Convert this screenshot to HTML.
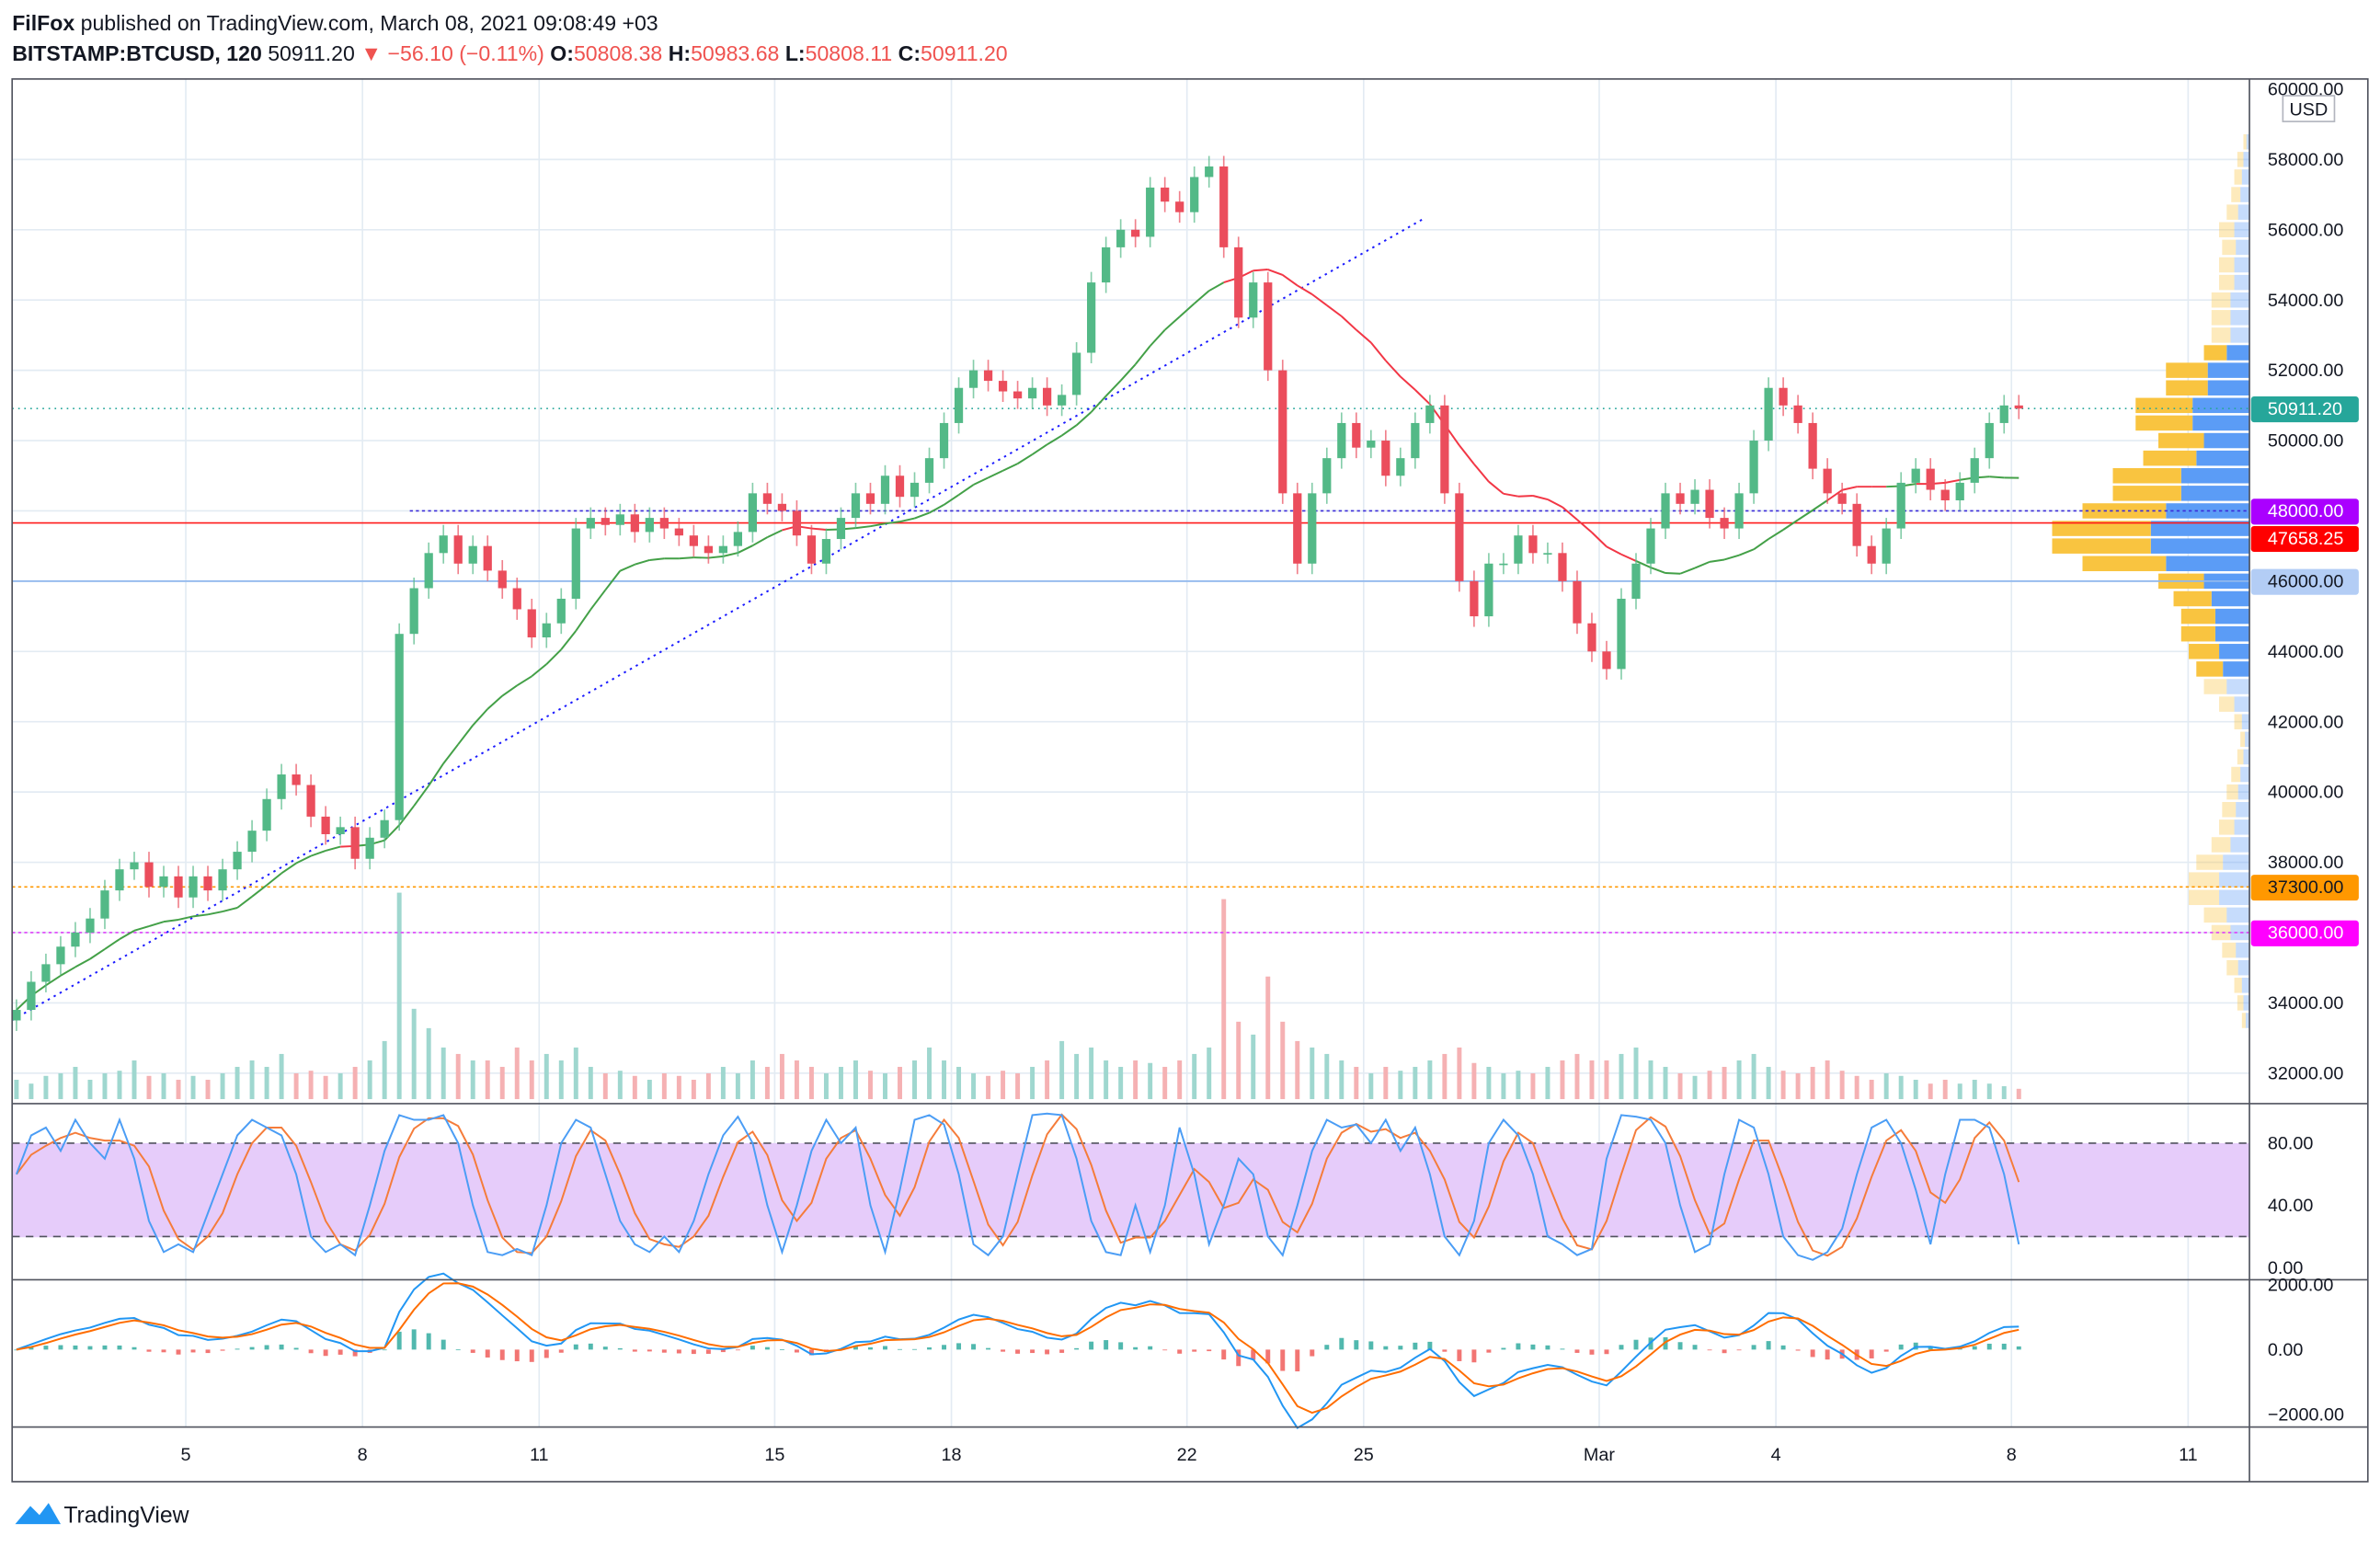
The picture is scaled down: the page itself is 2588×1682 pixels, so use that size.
<!DOCTYPE html>
<html><head><meta charset="utf-8"><style>
html,body{margin:0;padding:0;background:#fff;}
svg{display:block;font-family:"Liberation Sans",sans-serif;}
</style></head><body>
<svg id="chart" width="2588" height="1682" viewBox="0 0 1568 1019" xmlns="http://www.w3.org/2000/svg">
<rect x="0" y="0" width="1568" height="1019" fill="#fff"/>
<text x="8" y="20" font-size="14" fill="#131722"><tspan font-weight="bold">FilFox</tspan> published on TradingView.com, March 08, 2021 09:08:49 +03</text>
<text x="8" y="40" font-size="14" fill="#131722"><tspan font-weight="bold">BITSTAMP:BTCUSD, 120</tspan> 50911.20 <tspan fill="#ef5350">▼ −56.10 (−0.11%)</tspan> <tspan font-weight="bold">O:</tspan><tspan fill="#ef5350">50808.38</tspan> <tspan font-weight="bold">H:</tspan><tspan fill="#ef5350">50983.68</tspan> <tspan font-weight="bold">L:</tspan><tspan fill="#ef5350">50808.11</tspan> <tspan font-weight="bold">C:</tspan><tspan fill="#ef5350">50911.20</tspan></text>
<g id="grid"></g>
<rect x="8" y="753" width="1474" height="62" fill="#e6ccfa"/>
<g id="lay"></g>
<g fill="none" stroke="#50535e" stroke-width="1">
<rect x="8" y="52" width="1552" height="924"/>
<line x1="1482" y1="52" x2="1482" y2="976"/>
<line x1="8" y1="727" x2="1560" y2="727"/>
<line x1="8" y1="843" x2="1560" y2="843"/>
<line x1="8" y1="940" x2="1560" y2="940"/>
</g>
<g id="axes" font-size="12" fill="#131722"></g>
<rect x="1504" y="63" width="34" height="17" fill="#fff" stroke="#b2b5be"/>
<text x="1521" y="76" font-size="12" text-anchor="middle" fill="#131722">USD</text>
<g>
<path d="M10 1004 l10 -12 l6 6 l6 -8 l8 14 z" fill="#2196f3"/>
<text x="42" y="1003" font-size="15" fill="#131722">TradingView</text>
</g>
</svg>
<script>
const closes=[33800,34600,35100,35600,36000,36400,37200,37800,38000,37300,37600,37000,
37600,37200,37800,38300,38900,39800,40500,40200,39300,38800,39000,38100,
38700,39200,44500,45800,46800,47300,46500,47000,46300,45800,45200,44400,
44800,45500,47500,47800,47600,47900,47400,47800,47500,47300,47000,46800,
47000,47400,48500,48200,48000,47300,46500,47200,47800,48500,48200,49000,
48400,48800,49500,50500,51500,52000,51700,51400,51200,51500,51000,51300,
52500,54500,55500,56000,55800,57200,56800,56500,57500,57800,55500,53500,
54500,52000,48500,46500,48500,49500,50500,49800,50000,49000,49500,50500,
51000,48500,46000,45000,46500,46500,47300,46800,46800,46000,44800,44000,
43500,45500,46500,47500,48500,48200,48600,47800,47500,48500,50000,51500,
51000,50500,49200,48500,48200,47000,46500,47500,48800,49200,48600,48300,
48800,49500,50500,51000,50911];
const firstOpen=33500;
const volumes=[15,12,18,20,25,15,20,22,30,18,20,15,18,15,20,25,30,25,35,20,22,18,20,25,
30,45,160,70,55,40,35,30,30,25,40,30,35,30,40,25,20,22,18,15,20,18,15,20,
25,20,30,25,35,30,25,20,25,30,22,20,25,30,40,30,25,20,18,22,20,25,30,45,
35,40,30,25,30,28,25,30,35,40,155,60,50,95,60,45,40,35,30,25,20,25,22,25,
30,35,40,28,25,20,22,20,25,30,35,30,30,35,40,30,25,20,18,22,25,30,35,25,
22,20,25,30,22,18,15,20,18,15,12,15,12,15,12,10,8];
const stochK=[60,85,90,75,95,80,70,95,70,30,10,15,10,35,60,85,95,90,85,60,20,10,15,8,
40,75,98,95,95,98,80,40,10,8,12,8,40,80,95,90,60,30,15,10,20,10,30,60,
85,97,80,40,10,40,75,95,80,90,40,10,50,95,98,92,60,15,8,20,60,98,99,98,
70,30,10,8,40,10,40,90,60,15,40,70,60,20,8,40,75,95,90,92,80,95,75,90,
60,20,8,30,80,95,85,60,20,15,8,12,70,98,97,95,80,40,10,15,60,95,90,60,
20,8,5,10,25,60,90,95,80,50,15,60,95,95,90,60,15];
const profileStart=33500;
const profileWidths=[5,8,10,15,18,25,30,40,40,35,25,20,18,15,12,8,6,10,20,30,35,40,45,45,50,60,110,130,130,110,90,90,70,60,75,75,55,55,30,25,25,25,20,20,18,20,15,12,10,8,4];
const priceTicks=[60000,58000,56000,54000,52000,50000,48000,46000,44000,42000,40000,38000,36000,34000,32000];
const dateLabels=["5","8","11","15","18","22","25","Mar","4","8","11"];
const dateDays=[3,6,9,13,16,20,23,27,30,34,37];
const stochTicks=[80,40,0];
const macdTicks=[2000,0,-2000];

const NS="http://www.w3.org/2000/svg";
const xOf=i=>6+(i+0.5)*9.7;
const xDay=d=>6+d*38.8;
const yP=p=>105+(58000-p)*0.02315;
const yS=v=>835-v*1.025;
const yM=v=>889-v*0.0213;
const lay=document.getElementById('lay'),grid=document.getElementById('grid'),axes=document.getElementById('axes');
function mk(tag,parent,attrs){const e=document.createElementNS(NS,tag);for(const k in attrs)e.setAttribute(k,attrs[k]);parent.appendChild(e);return e;}

dateDays.forEach((d,k)=>{const l=mk('line',grid,{x1:xDay(d),x2:xDay(d),y1:52,y2:940,stroke:'#e3ebf3','stroke-width':1});


const t=mk('text',axes,{x:xDay(d),y:962,'text-anchor':'middle','font-size':12});t.textContent=dateLabels[k];

});
priceTicks.forEach(p=>{if(p<60000){const l=mk('line',grid,{x1:8,x2:1482,y1:yP(p),y2:yP(p),stroke:'#e3ebf3','stroke-width':1});

}
const t=mk('text',axes,{x:1494,y:yP(p)+4});t.textContent=p.toFixed(2);

});
stochTicks.forEach(v=>{const t=mk('text',axes,{x:1494,y:yS(v)+4});t.textContent=v.toFixed(2);

});
macdTicks.forEach(v=>{const t=mk('text',axes,{x:1494,y:yM(v)+4});t.textContent=(v<0?'−':'')+Math.abs(v).toFixed(2);

});

profileWidths.forEach((w,k)=>{const p=profileStart+k*500;const y=yP(p)-5;const op=(p<43500||p>52500)?0.35:1;
const b=mk('rect',lay,{x:1482-w*0.5,y:y,width:w*0.5,height:10,fill:'#5b9cf6',opacity:op});


const a=mk('rect',lay,{x:1482-w,y:y,width:w*0.5,height:10,fill:'#f9c440',opacity:op});

});

const opens=closes.map((c,i)=>i?closes[i-1]:firstOpen);
volumes.forEach((v,i)=>{const up=closes[i]>=opens[i];const h=v*0.85;const r=mk('rect',lay,{x:xOf(i)-1.5,y:724-h,width:3,height:h,fill:up?'#9fd7cf':'#f5b1b3'});

});

function hline(p,x1,col,dash,name,w){const l=mk('line',lay,{x1:x1,x2:1482,y1:yP(p),y2:yP(p),stroke:col,'stroke-width':w||1,'stroke-dasharray':dash});

}
hline(48000,270,'#3b2bd9','2 2','level-48000');
hline(47658.25,8,'#ff1a1a','','level-47658');
hline(46000,8,'#90b8ee','','level-46000');
hline(37300,8,'#ff9800','2 2','level-37300');
hline(36000,8,'#e040fb','2 2','level-36000');
hline(50911.2,8,'#26a69a','1 3','last-price-line');
const tl=mk('line',lay,{x1:8,y1:672,x2:938,y2:144,stroke:'#1a1aff','stroke-width':1.2,'stroke-dasharray':'1.5 3'});



const N=16;const ma=closes.map((c,i)=>{const s=closes.slice(Math.max(0,i-N+1),i+1);return s.reduce((a,b)=>a+b,0)/s.length;});
for(let i=1;i<closes.length;i++){const col=closes[i]>=ma[i]?'#43a047':'#f23645';
const l=mk('line',lay,{x1:xOf(i-1),y1:yP(ma[i-1]),x2:xOf(i),y2:yP(ma[i]),stroke:col,'stroke-width':1.2});

}

closes.forEach((c,i)=>{const o=opens[i];const up=c>=o;const col=up?'#53b987':'#eb4d5c';const x=xOf(i);
const hi=Math.max(o,c)+300,lo=Math.min(o,c)-300;
const w=mk('line',lay,{x1:x,x2:x,y1:yP(hi),y2:yP(lo),stroke:col,'stroke-width':1,opacity:0.7});


const top=yP(Math.max(o,c)),h=Math.max(1,yP(Math.min(o,c))-top);
const b=mk('rect',lay,{x:x-2.8,y:top,width:5.6,height:h,fill:col});

});

[80,20].forEach(v=>{const l=mk('line',lay,{x1:8,x2:1482,y1:yS(v),y2:yS(v),stroke:'#50535e','stroke-dasharray':'5 4'});

});
const stochD=stochK.map((v,i)=>{const s=stochK.slice(Math.max(0,i-2),i+1);return s.reduce((a,b)=>a+b,0)/s.length;});
function poly(arr,fy,col,name){const p=mk('polyline',lay,{points:arr.map((v,i)=>xOf(i)+','+fy(v)).join(' '),fill:'none',stroke:col,'stroke-width':1.2});

}
poly(stochD,yS,'#f57c3a','stoch-d-line');
poly(stochK,yS,'#4b9df5','stoch-k-line');

function ema(a,n){const k=2/(n+1);let e=a[0];return a.map(v=>e=v*k+e*(1-k));}
const e1=ema(closes,4),e2=ema(closes,9);const macd=e1.map((v,i)=>v-e2[i]);const sig=ema(macd,3);
macd.forEach((m,i)=>{const h=m-sig[i];const y0=yM(0),y1=yM(h);
const r=mk('rect',lay,{x:xOf(i)-1.5,y:Math.min(y0,y1),width:3,height:Math.max(0.5,Math.abs(y1-y0)),fill:h>=0?'#26a69a':'#ef5350',opacity:0.8});

});
poly(macd,yM,'#2196f3','macd-line');
poly(sig,yM,'#ff6d00','signal-line');

function tag(y,txt,bg,fg,name){
const r=mk('rect',axes,{x:1483,y:y-8,width:71,height:17,fill:bg,rx:2});


const t=mk('text',axes,{x:1494,y:y+4,fill:fg});t.textContent=txt;

}
tag(yP(50911.2),'50911.20','#26a69a','#fff','last-price-tag');
tag(yP(48000),'48000.00','#aa00ff','#fff','level-48000-tag');
tag(yP(48000)+18,'47658.25','#ff0000','#fff','level-47658-tag');
tag(yP(46000),'46000.00','#b3cdf5','#131722','level-46000-tag');
tag(yP(37300),'37300.00','#ff9800','#131722','level-37300-tag');
tag(yP(36000),'36000.00','#ff00ff','#fff','level-36000-tag');
</script>
</body></html>
